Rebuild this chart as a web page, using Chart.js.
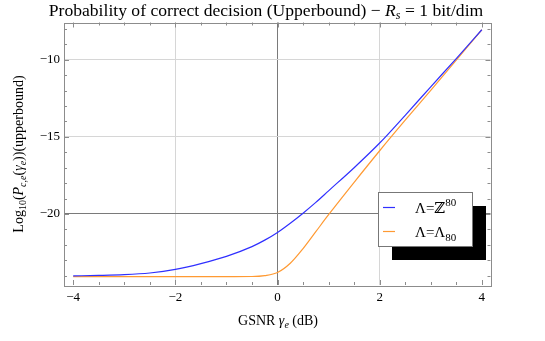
<!DOCTYPE html>
<html>
<head>
<meta charset="utf-8">
<script src="https://cdn.jsdelivr.net/npm/chart.js@4/dist/chart.umd.min.js"></script>
<style>
  body { margin: 0; background: #fff; }
  canvas { display: block; }
</style>
</head>
<body>
<canvas id="gsnrChart" width="545" height="341"></canvas>
<script>
// values
const gsnrDb = [-4, -3.5, -3, -2.5, -2, -1.5, -1, -0.5, -0.25, 0, 0.25, 0.5, 0.75, 1, 1.5, 2, 2.5, 3, 3.5, 4];
const logPcZ80 = [-24.02, -23.99, -23.94, -23.83, -23.6, -23.22, -22.75, -22.12, -21.7, -21.2, -20.6, -19.95, -19.25, -18.5, -17.0, -15.4, -13.6, -11.75, -9.92, -8.05];
const logPcL80 = [-24.07, -24.07, -24.07, -24.07, -24.07, -24.07, -24.07, -24.06, -24.0, -23.8, -23.2, -22.25, -21.15, -20.05, -17.95, -15.9, -13.92, -11.98, -10.02, -8.05];
const xTickLabels = [-4, -2, 0, 2, 4];
const yTickLabels = [-20, -15, -10];
const seriesNames = ['Λ=ℤ^80', 'Λ=Λ_80'];

const SERIF = "'Liberation Serif', 'DejaVu Serif', serif";
const FRAME = '#8c8c8c';

const fmt = v => (v < 0 ? '\u2212' + Math.abs(v) : String(v));

// draw a run of text pieces: {t, it (italic), sz, dy}
function richWidth(ctx, parts) {
  let w = 0;
  parts.forEach(p => {
    ctx.font = (p.it ? 'italic ' : '') + p.sz + 'px ' + SERIF;
    w += ctx.measureText(p.t).width;
  });
  return w;
}
function drawRich(ctx, parts, x, y) {
  parts.forEach(p => {
    ctx.font = (p.it ? 'italic ' : '') + p.sz + 'px ' + SERIF;
    ctx.fillText(p.t, x, y + (p.dy || 0));
    x += ctx.measureText(p.t).width;
  });
}
// legend label from 'A^b' / 'A_b'
function labelParts(name) {
  const m = name.match(/^(.*?)([\^_])(.*)$/);
  if (!m) return [{ t: name, sz: 15 }];
  return [{ t: m[1], sz: 15 }, { t: m[3], sz: 11, dy: m[2] === '^' ? -7 : 4 }];
}

const decorations = {
  id: 'decorations',
  afterDraw(chart) {
    const ctx = chart.ctx;
    const a = chart.chartArea;
    const xs = chart.scales.x, ys = chart.scales.y;
    ctx.save();

    // frame
    ctx.strokeStyle = FRAME;
    ctx.lineWidth = 1;
    ctx.strokeRect(Math.round(a.left) + 0.5, Math.round(a.top) + 0.5,
      Math.round(a.right - a.left), Math.round(a.bottom - a.top));

    // inward ticks on all four sides
    ctx.beginPath();
    xs.ticks.forEach(t => {
      const px = Math.round(xs.getPixelForValue(t.value)) + 0.5;
      const len = xTickLabels.includes(t.value) ? 5 : 3;
      ctx.moveTo(px, a.bottom); ctx.lineTo(px, a.bottom - len);
      ctx.moveTo(px, a.top); ctx.lineTo(px, a.top + len);
    });
    ys.ticks.forEach(t => {
      const py = Math.round(ys.getPixelForValue(t.value)) + 0.5;
      const len = yTickLabels.includes(t.value) ? 5 : 3;
      ctx.moveTo(a.left, py); ctx.lineTo(a.left + len, py);
      ctx.moveTo(a.right, py); ctx.lineTo(a.right - len, py);
    });
    ctx.stroke();

    ctx.fillStyle = '#000';
    ctx.textBaseline = 'alphabetic';
    ctx.textAlign = 'left';

    // title
    const title = [
      { t: 'Probability of correct decision (Upperbound) \u2212 ', sz: 17.6 },
      { t: 'R', it: true, sz: 17.6 },
      { t: 's', it: true, sz: 12, dy: 3 },
      { t: ' = 1 bit/dim', sz: 17.6 }
    ];
    drawRich(ctx, title, 266 - richWidth(ctx, title) / 2, 16);

    // x axis title
    const xt = [
      { t: 'GSNR ', sz: 14 },
      { t: '\u03b3', it: true, sz: 14 },
      { t: 'e', it: true, sz: 10, dy: 3 },
      { t: ' (dB)', sz: 14 }
    ];
    drawRich(ctx, xt, 278 - richWidth(ctx, xt) / 2, 325);

    // y axis title
    const yt = [
      { t: 'Log', sz: 14 },
      { t: '10', sz: 10, dy: 3 },
      { t: '(', sz: 14 },
      { t: 'P', it: true, sz: 14 },
      { t: 'c,e', it: true, sz: 10, dy: 3 },
      { t: '(', sz: 14 },
      { t: '\u03b3', it: true, sz: 14 },
      { t: 'e', it: true, sz: 10, dy: 3 },
      { t: '))(upperbound)', sz: 14 }
    ];
    ctx.save();
    ctx.translate(23, 154);
    ctx.rotate(-Math.PI / 2);
    drawRich(ctx, yt, -richWidth(ctx, yt) / 2, 0);
    ctx.restore();

    // legend with drop shadow
    const lx = 378, ly = 192, lw = 94, lh = 54;
    ctx.fillStyle = '#000';
    ctx.fillRect(lx + 14, ly + 14, lw, lh);
    ctx.fillStyle = '#fff';
    ctx.fillRect(lx, ly, lw, lh);
    ctx.strokeStyle = '#777';
    ctx.strokeRect(lx + 0.5, ly + 0.5, lw, lh);
    chart.data.datasets.forEach((ds, i) => {
      const cy = ly + 15 + i * 24;
      ctx.strokeStyle = ds.borderColor;
      ctx.lineWidth = 1.2;
      ctx.beginPath();
      ctx.moveTo(lx + 5, cy + 0.5); ctx.lineTo(lx + 17, cy + 0.5);
      ctx.stroke();
      ctx.fillStyle = '#000';
      drawRich(ctx, labelParts(ds.label), lx + 37, cy + 6);
    });

    ctx.restore();
  }
};

const gridColorX = c => {
  const v = c.tick.value;
  if (v === 0) return '#7a7a7a';
  if (v === -2 || v === 2) return '#d6d6d6';
  return 'rgba(0,0,0,0)';
};
const gridColorY = c => {
  const v = c.tick.value;
  if (v === -20) return '#7a7a7a';
  if (v === -15 || v === -10) return '#d6d6d6';
  return 'rgba(0,0,0,0)';
};

new Chart(document.getElementById('gsnrChart').getContext('2d'), {
  type: 'line',
  data: {
    datasets: [
      {
        label: seriesNames[0],
        data: gsnrDb.map((x, i) => ({ x, y: logPcZ80[i] })),
        borderColor: '#3030ff',
        borderWidth: 1.2,
        pointRadius: 0,
        cubicInterpolationMode: 'monotone',
        fill: false
      },
      {
        label: seriesNames[1],
        data: gsnrDb.map((x, i) => ({ x, y: logPcL80[i] })),
        borderColor: '#ff9a33',
        borderWidth: 1.2,
        pointRadius: 0,
        cubicInterpolationMode: 'monotone',
        fill: false
      }
    ]
  },
  options: {
    responsive: false,
    animation: false,
    layout: { padding: { left: 0, right: 54.5, top: 22.5, bottom: 0 } },
    plugins: {
      legend: { display: false },
      title: { display: false },
      tooltip: { enabled: false }
    },
    scales: {
      x: {
        type: 'linear',
        min: -4.18,
        max: 4.17,
        afterBuildTicks: s => {
          const t = [];
          for (let v = -8; v <= 8; v++) t.push({ value: v / 2 });
          s.ticks = t;
        },
        afterFit: s => { s.height = 56; },
        ticks: {
          autoSkip: false,
          maxRotation: 0,
          padding: 5,
          color: '#000',
          font: { family: SERIF, size: 13 },
          callback: v => (xTickLabels.includes(v) ? fmt(v) : '')
        },
        grid: { color: gridColorX, drawTicks: false, lineWidth: 1 },
        border: { display: false }
      },
      y: {
        type: 'linear',
        min: -24.61,
        max: -7.58,
        afterBuildTicks: s => {
          const t = [];
          for (let v = -24; v <= -8; v++) t.push({ value: v });
          s.ticks = t;
        },
        afterFit: s => { s.width = 64; },
        ticks: {
          autoSkip: false,
          padding: 4,
          color: '#000',
          font: { family: SERIF, size: 13 },
          callback: v => (yTickLabels.includes(v) ? fmt(v) : '')
        },
        grid: { color: gridColorY, drawTicks: false, lineWidth: 1 },
        border: { display: false }
      }
    }
  },
  plugins: [decorations]
});
</script>
</body>
</html>
